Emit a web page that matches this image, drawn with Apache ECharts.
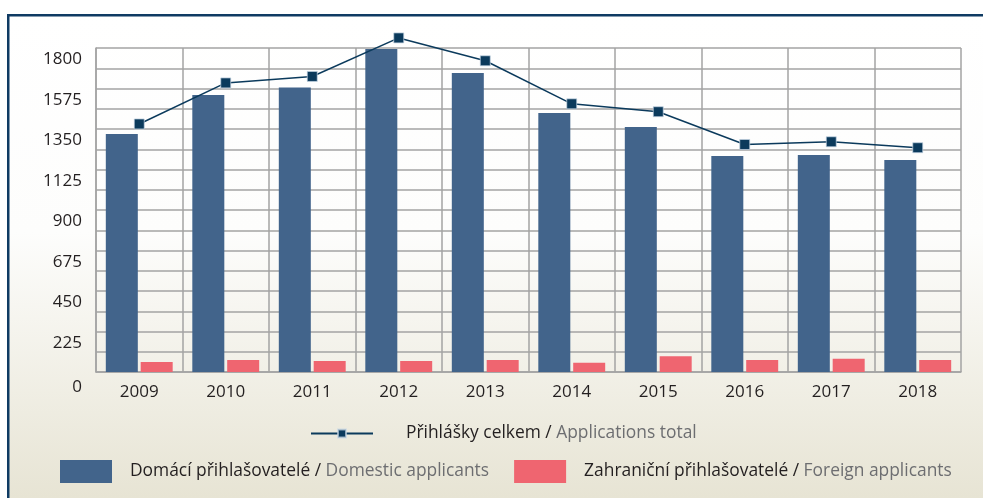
<!DOCTYPE html>
<html>
<head>
<meta charset="utf-8">
<script src="https://cdn.jsdelivr.net/npm/echarts@6/dist/echarts.min.js"></script>
<style>
  html, body { margin: 0; padding: 0; background: #fff; }
  #chart { width: 983px; height: 498px; }
</style>
</head>
<body>
<div id="chart"></div>
<script>
  // data
  var years = ['2009', '2010', '2011', '2012', '2013', '2014', '2015', '2016', '2017', '2018'];
  var domestic = [1322, 1539, 1581, 1795, 1661, 1439, 1361, 1200, 1206, 1178];
  var foreign = [56, 67, 61, 61, 67, 51, 87, 67, 74, 67];
  var total = [1378, 1606, 1642, 1856, 1729, 1490, 1446, 1264, 1279, 1246];

  var nameTotal = ['Přihlášky celkem', 'Applications total'];
  var nameDomestic = ['Domácí přihlašovatelé', 'Domestic applicants'];
  var nameForeign = ['Zahraniční přihlašovatelé', 'Foreign applicants'];

  var font = 'Open Sans';
  var gridColor = '#a3a3a3';

  var chart = echarts.init(document.getElementById('chart'));

  function legendText(name) {
    var parts = {};
    parts[nameTotal.join(' / ')] = nameTotal;
    parts[nameDomestic.join(' / ')] = nameDomestic;
    parts[nameForeign.join(' / ')] = nameForeign;
    var p = parts[name];
    return '{a|' + p[0] + ' / }{b|' + p[1] + '}';
  }

  function legendRich(gap) {
    return {
      a: { color: '#231f20', fontSize: 17.4, fontFamily: font, padding: [0, 0, 0, gap] },
      b: { color: '#6d6e71', fontSize: 17.4, fontFamily: font }
    };
  }

  chart.setOption({
    animation: false,
    graphic: [{
      type: 'rect',
      z: -10,
      shape: { x: 8, y: 15, width: 975, height: 483 },
      style: {
        fill: new echarts.graphic.LinearGradient(0, 0, 0, 1, [
          { offset: 0, color: '#ffffff' },
          { offset: 0.45, color: '#fdfdfc' },
          { offset: 1, color: '#e7e4d4' }
        ])
      }
    }, {
      type: 'rect',
      z: -9,
      shape: { x: 7, y: 14, width: 976, height: 2.5 },
      style: { fill: '#0f3b63' }
    }, {
      type: 'rect',
      z: -9,
      shape: { x: 7, y: 14, width: 2.5, height: 484 },
      style: { fill: '#0f3b63' }
    }],
    legend: [{
      left: 310,
      top: 425,
      padding: 0,
      itemWidth: 62,
      itemHeight: 10,
      data: [nameTotal.join(' / ')],
      formatter: legendText,
      textStyle: { rich: legendRich(28) }
    }, {
      left: 60,
      top: 460,
      padding: 0,
      itemWidth: 52,
      itemHeight: 23,
      itemGap: 25,
      icon: 'rect',
      data: [nameDomestic.join(' / '), nameForeign.join(' / ')],
      formatter: legendText,
      textStyle: { rich: legendRich(13) }
    }],
    grid: {
      left: 96,
      right: 22,
      top: 48,
      bottom: 126
    },
    xAxis: {
      type: 'category',
      data: years,
      axisTick: { show: false },
      axisLine: { lineStyle: { color: gridColor, width: 1.5 } },
      axisLabel: {
        margin: 12,
        fontFamily: font,
        fontSize: 17,
        color: '#231f20'
      },
      splitLine: {
        show: true,
        interval: 0,
        lineStyle: { color: gridColor, width: 1.5 }
      }
    },
    yAxis: {
      type: 'value',
      min: 0,
      max: 1800,
      interval: 112.5,
      axisTick: { show: false },
      axisLine: { show: true, lineStyle: { color: gridColor, width: 1.5 } },
      axisLabel: {
        margin: 14,
        verticalAlign: 'top',
        formatter: function (v) {
          if (v % 225 !== 0) return '';
          return v === 0 ? '{z|0}' : '{n|' + v + '}';
        },
        rich: {
          n: { fontFamily: font, fontSize: 17, lineHeight: 18, color: '#231f20', padding: [5, 0, 0, 0] },
          z: { fontFamily: font, fontSize: 17, lineHeight: 18, color: '#231f20', padding: [13, 0, 0, 0] }
        }
      },
      splitLine: {
        lineStyle: { color: gridColor, width: 1.5 }
      }
    },
    series: [{
      name: nameDomestic.join(' / '),
      type: 'bar',
      barWidth: 32,
      barGap: '9%',
      itemStyle: { color: '#42648b' },
      data: domestic
    }, {
      name: nameForeign.join(' / '),
      type: 'bar',
      barWidth: 32,
      itemStyle: { color: '#ef6570' },
      data: foreign
    }, {
      name: nameTotal.join(' / '),
      type: 'line',
      clip: false,
      symbol: 'rect',
      symbolSize: 10,
      z: 5,
      lineStyle: { color: '#0b3a5c', width: 1.5 },
      itemStyle: { color: '#0b3a5c', borderColor: 'rgba(200,215,230,0.7)', borderWidth: 1 },
      data: total
    }]
  });
</script>
</body>
</html>
